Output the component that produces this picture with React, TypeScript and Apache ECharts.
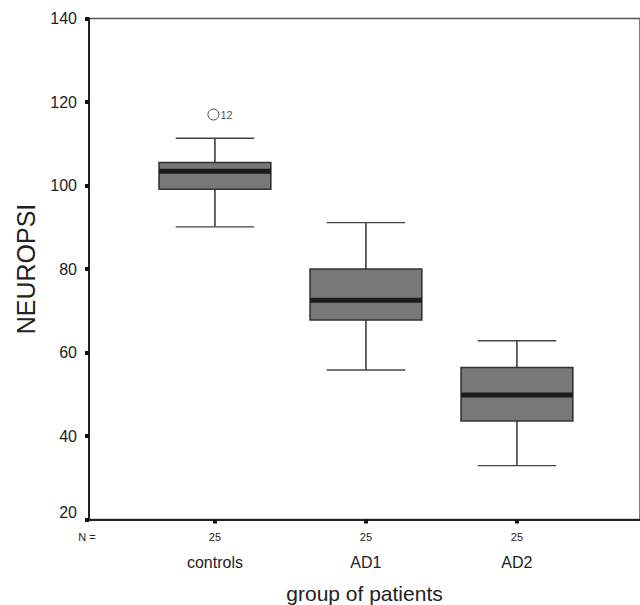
import React, { useEffect, useRef } from "react";
import * as echarts from "echarts";

const categories = ["controls", "AD1", "AD2"];
const categoryPositions = [1, 2, 3];
const nLabels = [25, 25, 25];
const whiskerLow = [90.1, 55.8, 32.9];
const quartile1 = [99.1, 67.8, 43.6];
const medians = [103.4, 72.5, 49.8];
const quartile3 = [105.5, 80.0, 56.4];
const whiskerHigh = [111.3, 91.1, 62.8];
const outlierPositions = [0.99];
const outlierValues = [117.0];
const outlierLabels = ["12"];
const yTicks = [20, 40, 60, 80, 100, 120, 140];

const X_MIN = 0.166;
const X_MAX = 3.815;
const BOX_WIDTH = 0.74;
const CAP_WIDTH = 0.52;

export default function App() {
  const ref = useRef<HTMLDivElement>(null);
  useEffect(() => {
    if (!ref.current) return;
    const chart = echarts.init(ref.current, undefined, { renderer: "svg" });
    const boxData = categoryPositions.map((p, i) => [
      p,
      whiskerLow[i],
      quartile1[i],
      medians[i],
      quartile3[i],
      whiskerHigh[i],
    ]);
    const outlierData = outlierPositions.map((p, i) => ({
      value: [p, outlierValues[i]],
      name: outlierLabels[i],
    }));
    const font = "Liberation Sans, Arial, sans-serif";
    chart.setOption({
      animation: false,
      textStyle: { fontFamily: font },
      grid: {
        left: 89,
        right: 0,
        top: 18.5,
        bottom: 85.5,
        show: true,
        borderColor: "#555",
        borderWidth: 1.5,
        outerBoundsMode: "none",
        containLabel: false,
      },
      xAxis: {
        type: "value",
        min: X_MIN,
        max: X_MAX,
        splitLine: { show: false },
        axisLine: { show: true, onZero: false, lineStyle: { color: "#222", width: 2 } },
        axisTick: {
          show: true,
          customValues: categoryPositions,
          length: 4,
          lineStyle: { color: "#111", width: 4 },
        },
        axisLabel: {
          show: true,
          customValues: [X_MIN, ...categoryPositions],
          margin: 10,
          color: "#222",
          formatter: (v: number) => {
            const idx = categoryPositions.findIndex((p) => Math.abs(p - v) < 1e-6);
            if (idx < 0) return "{m|N =}";
            return `{n|${nLabels[idx]}}\n{c|${categories[idx]}}`;
          },
          rich: {
            m: { fontSize: 11, lineHeight: 14, color: "#222", fontFamily: font, padding: [0, 4, 0, 0] },
            n: { fontSize: 11, lineHeight: 14, color: "#222", fontFamily: font },
            c: { fontSize: 16, lineHeight: 38, color: "#222", fontFamily: font },
          },
        },
        name: "group of patients",
        nameLocation: "middle",
        nameGap: 63,
        nameTextStyle: { fontSize: 21, color: "#222", fontFamily: font },
      },
      yAxis: {
        type: "value",
        min: 20,
        max: 140,
        interval: 20,
        splitLine: { show: false },
        axisLine: { show: true, onZero: false, lineStyle: { color: "#222", width: 2 } },
        axisTick: { show: true, length: 4, lineStyle: { color: "#111", width: 4 } },
        axisLabel: {
          margin: 12,
          fontSize: 16,
          color: "#222",
          fontFamily: font,
          formatter: (v: number) =>
            v === yTicks[0] ? `{b|${v}}` : yTicks.includes(v) ? String(v) : "",
          rich: {
            b: { fontSize: 16, color: "#222", fontFamily: font, padding: [0, 0, 15, 0] },
          },
        },
        name: "NEUROPSI",
        nameLocation: "middle",
        nameRotate: 90,
        nameGap: 51,
        nameTextStyle: { fontSize: 25, color: "#222", fontFamily: font },
      },
      series: [
        {
          type: "custom",
          data: boxData,
          encode: { x: 0, y: [1, 2, 3, 4, 5] },
          renderItem: (params: any, api: any) => {
            const x = api.value(0);
            const lo = api.coord([x, api.value(1)]);
            const q1 = api.coord([x, api.value(2)]);
            const med = api.coord([x, api.value(3)]);
            const q3 = api.coord([x, api.value(4)]);
            const hi = api.coord([x, api.value(5)]);
            const halfBox = api.size([BOX_WIDTH, 0])[0] / 2;
            const halfCap = api.size([CAP_WIDTH, 0])[0] / 2;
            const cx = lo[0];
            const lineStyle = { stroke: "#222", lineWidth: 1.4 };
            return {
              type: "group",
              children: [
                { type: "line", shape: { x1: cx, y1: hi[1], x2: cx, y2: q3[1] }, style: lineStyle },
                { type: "line", shape: { x1: cx, y1: q1[1], x2: cx, y2: lo[1] }, style: lineStyle },
                { type: "line", shape: { x1: cx - halfCap, y1: hi[1], x2: cx + halfCap, y2: hi[1] }, style: { stroke: "#444", lineWidth: 1.4 } },
                { type: "line", shape: { x1: cx - halfCap, y1: lo[1], x2: cx + halfCap, y2: lo[1] }, style: { stroke: "#444", lineWidth: 1.4 } },
                {
                  type: "rect",
                  shape: { x: cx - halfBox, y: q3[1], width: halfBox * 2, height: q1[1] - q3[1] },
                  style: { fill: "#787878", stroke: "#333", lineWidth: 1.6 },
                },
                {
                  type: "rect",
                  shape: { x: cx - halfBox, y: med[1] - 2.5, width: halfBox * 2, height: 5 },
                  style: { fill: "#1c1c1c" },
                },
              ],
            };
          },
        },
        {
          type: "scatter",
          data: outlierData,
          symbol: "circle",
          symbolSize: 11,
          itemStyle: { color: "#fff", borderColor: "#222", borderWidth: 1 },
          label: {
            show: true,
            position: "right",
            distance: 1,
            formatter: (p: any) => p.name,
            fontSize: 11,
            color: "#222",
            fontFamily: font,
          },
        },
      ],
    });
    return () => chart.dispose();
  }, []);
  return (
    <div
      ref={ref}
      style={{ position: "fixed", left: 0, top: 0, width: 640, height: 605, background: "#fff" }}
    />
  );
}
